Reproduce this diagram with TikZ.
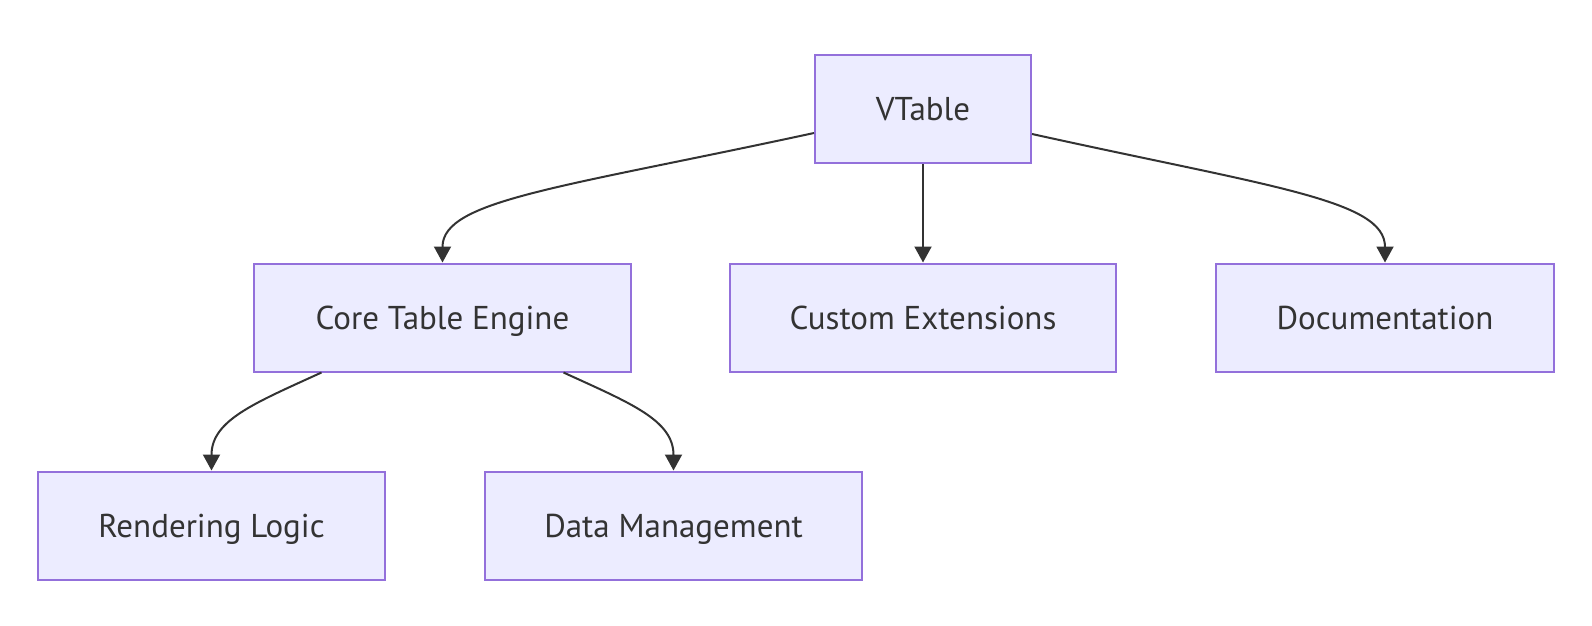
\documentclass[tikz,border=0pt]{standalone}
\usepackage{fontspec}
\setmainfont{PT Sans}
\usetikzlibrary{arrows.meta}

\definecolor{boxfill}{RGB}{236,236,255}
\definecolor{boxline}{RGB}{147,112,219}
\definecolor{edgeline}{RGB}{51,51,51}

\tikzset{
  treebox/.style={draw=boxline, fill=boxfill, line width=2pt, inner sep=0pt,
    text=edgeline, font=\fontsize{33}{38}\selectfont, text height=23pt, text depth=0pt},
  treeedge/.style={draw=edgeline, line width=2pt, -{Triangle[length=16pt,width=17pt]}}
}

\begin{document}
\begin{tikzpicture}[x=1pt,y=1pt,yscale=-1,xscale=1]
        \useasboundingbox (0,0) rectangle (1592,626);

        %Shape: Rectangle [top row]
        \node [treebox, minimum width=216, minimum height=108] (vtable) at (923,109) {VTable};
        %Shape: Rectangle [middle row]
        \node [treebox, minimum width=377, minimum height=108] (core) at (442.5,317.5) {Core Table Engine};
        \node [treebox, minimum width=386, minimum height=108] (custom) at (923,317.5) {Custom Extensions};
        \node [treebox, minimum width=338, minimum height=108] (docs) at (1385,317.5) {Documentation};
        %Shape: Rectangle [bottom row]
        \node [treebox, minimum width=347, minimum height=108] (render) at (211.5,525.5) {Rendering Logic};
        \node [treebox, minimum width=377, minimum height=108] (datamgmt) at (673.5,525.5) {Data Management};

        %Curve Lines [VTable to children]
        \draw [treeedge] ([yshift=24]vtable.west) .. controls (560,188) and (442.5,200) .. (core.north);
        \draw [treeedge] (vtable.south) -- (custom.north);
        \draw [treeedge] ([yshift=25]vtable.east) .. controls (1272,187) and (1385,200) .. (docs.north);
        %Curve Lines [Core to children]
        \draw [treeedge] ([xshift=-121]core.south) .. controls (255,403) and (211.5,420) .. (render.north);
        \draw [treeedge] ([xshift=121]core.south) .. controls (630,403) and (673.5,420) .. (datamgmt.north);
\end{tikzpicture}
\end{document}
